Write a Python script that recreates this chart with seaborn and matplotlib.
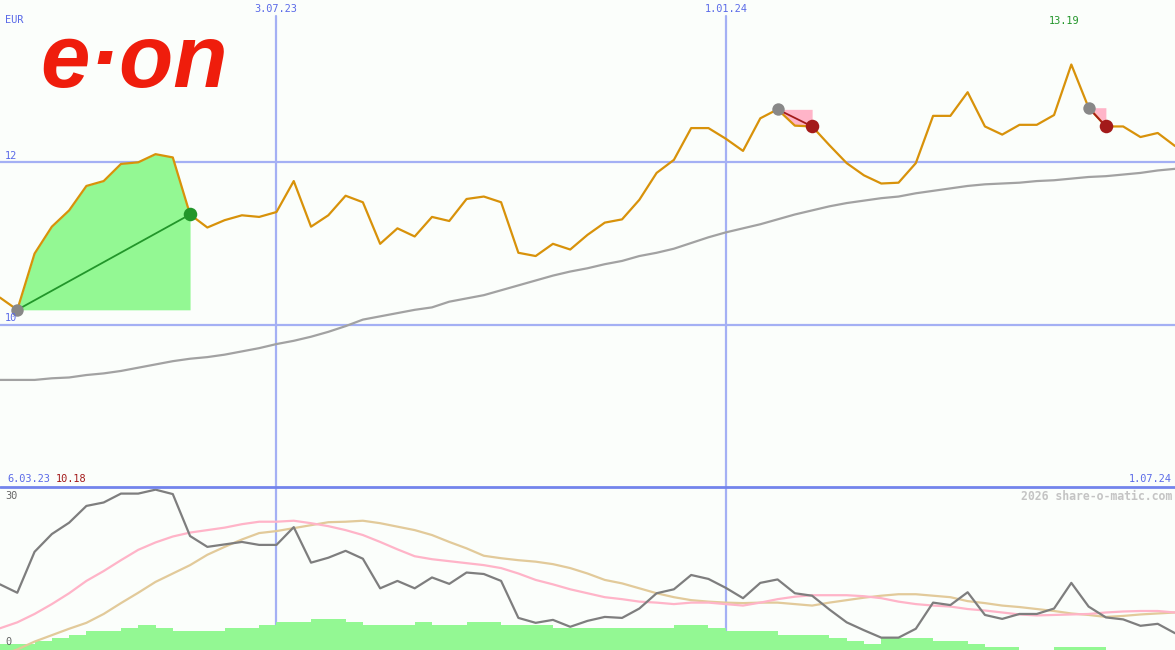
import matplotlib
matplotlib.use("Agg")
import matplotlib.pyplot as plt
from matplotlib.lines import Line2D
import numpy as np
import pandas as pd
import seaborn as sns

# ---------------- data (weekly points, index 0 .. 68) ----------------
weeks = list(range(69))

price = [10.33, 10.18, 10.87, 11.20, 11.40, 11.70, 11.76, 11.97, 11.99, 12.09,
         12.05, 11.35, 11.19, 11.28, 11.34, 11.32, 11.38, 11.76, 11.20, 11.34,
         11.58, 11.50, 10.99, 11.18, 11.08, 11.32, 11.27, 11.54, 11.57, 11.50,
         10.88, 10.84, 10.99, 10.92, 11.10, 11.25, 11.29, 11.53, 11.86, 12.02,
         12.41, 12.41, 12.28, 12.13, 12.53, 12.64, 12.44, 12.43, 12.20, 11.98,
         11.83, 11.73, 11.74, 11.98, 12.56, 12.56, 12.85, 12.43, 12.33, 12.45,
         12.45, 12.57, 13.19, 12.66, 12.43, 12.43, 12.30, 12.35, 12.19]

ma_long = [9.32, 9.32, 9.32, 9.34, 9.35, 9.38, 9.40, 9.43, 9.47, 9.51,
           9.55, 9.58, 9.60, 9.63, 9.67, 9.71, 9.76, 9.80, 9.85, 9.91,
           9.98, 10.06, 10.10, 10.14, 10.18, 10.21, 10.28, 10.32, 10.36, 10.42,
           10.48, 10.54, 10.60, 10.65, 10.69, 10.74, 10.78, 10.84, 10.88, 10.93,
           11.00, 11.07, 11.13, 11.18, 11.23, 11.29, 11.35, 11.40, 11.45, 11.49,
           11.52, 11.55, 11.57, 11.61, 11.64, 11.67, 11.70, 11.72, 11.73, 11.74,
           11.76, 11.77, 11.79, 11.81, 11.82, 11.84, 11.86, 11.89, 11.91]

osc = [12.9, 11.2, 19.5, 23.1, 25.4, 28.8, 29.5, 31.3, 31.3, 32.1,
       31.2, 22.7, 20.5, 21.0, 21.5, 20.9, 20.9, 24.5, 17.3, 18.3,
       19.7, 18.1, 12.1, 13.6, 12.1, 14.3, 13.0, 15.3, 15.0, 13.6,
       6.1, 5.1, 5.7, 4.3, 5.5, 6.3, 6.1, 8.0, 11.1, 11.9,
       14.8, 14.0, 12.2, 10.1, 13.2, 13.9, 11.1, 10.6, 7.8, 5.2,
       3.6, 2.1, 2.1, 3.9, 9.2, 8.7, 11.3, 6.7, 5.9, 6.9,
       6.9, 8.0, 13.2, 8.4, 6.2, 5.8, 4.5, 4.9, 3.0]

osc_fast = [4.0, 5.2, 6.9, 8.9, 11.1, 13.6, 15.6, 17.8, 19.9, 21.4,
            22.6, 23.4, 23.9, 24.4, 25.1, 25.6, 25.6, 25.8, 25.3, 24.7,
            23.9, 22.9, 21.5, 20.0, 18.6, 18.0, 17.6, 17.2, 16.8, 16.2,
            15.1, 13.8, 12.9, 11.9, 11.1, 10.3, 9.9, 9.4, 9.2, 8.9,
            9.2, 9.2, 8.9, 8.6, 9.2, 9.9, 10.4, 10.7, 10.7, 10.7,
            10.5, 10.1, 9.4, 8.9, 8.6, 8.4, 7.9, 7.6, 7.2, 6.8,
            6.6, 6.7, 6.8, 6.9, 7.2, 7.4, 7.5, 7.5, 7.2]

osc_slow = [-1.5, -0.3, 1.3, 2.6, 3.9, 5.1, 6.9, 9.1, 11.2, 13.4,
            15.1, 16.8, 18.9, 20.5, 22.0, 23.3, 23.7, 24.3, 24.9, 25.5,
            25.6, 25.8, 25.3, 24.6, 23.9, 22.9, 21.5, 20.2, 18.7, 18.2,
            17.8, 17.5, 17.0, 16.2, 15.1, 13.8, 13.1, 12.1, 11.1, 10.3,
            9.7, 9.4, 9.2, 9.1, 9.2, 9.2, 8.9, 8.6, 9.2, 9.7,
            10.2, 10.6, 10.9, 10.9, 10.6, 10.3, 9.5, 9.1, 8.6, 8.3,
            7.9, 7.5, 7.0, 6.7, 6.3, 6.5, 6.8, 7.0, 7.2]

volume = [6, 6, 9, 11.7, 15, 19, 19, 22.3, 25, 22.3,
          19, 19, 19, 22.3, 22.3, 25, 27.7, 27.7, 30.7, 30.7,
          27.7, 25, 25, 25, 27.7, 25, 25, 27.7, 27.7, 25,
          25, 25, 22.3, 22.3, 22.3, 22.3, 22.3, 22.3, 22.3, 25,
          25, 22.3, 19, 19, 19, 15, 15, 15, 11.7, 9,
          6, 11.7, 11.7, 11.7, 9, 9, 6, 2.7, 2.7, 0,
          0, 2.7, 2.7, 2.7, 0, 0, 0, 0]

date_labels = ["6.03.23", "3.07.23", "1.01.24", "1.07.24"]
vline_weeks = [16, 42]
price_levels = [12, 10]
osc_levels = [30, 0]
buy_signal = (1, 11)
sell_signals = [(45, 47), (63, 64)]

# ---------------- style ----------------
sns.set_style("white")
plt.rcParams["font.family"] = ["DejaVu Sans Mono", "DejaVu Sans"]

W, H = 1175, 650
BG = "#fbfefb"
GRID = "#a4b0f4"
SEP = "#7384ec"
LBL = "#5a6ae8"
ORANGE = "#d8920a"
MAGRAY = "#a2a2a2"
OSCGRAY = "#7e7e7e"
PINK = "#ffb4c8"
TAN = "#e2ca9a"
GREEN = "#93f893"
DKGREEN = "#22962a"
DKRED = "#a31a1a"

fig = plt.figure(figsize=(W / 100, H / 100), dpi=100, facecolor=BG)

main_h = 487 / H
low_h = 163 / H
ax = fig.add_axes([0, low_h, 1, main_h])
axv = fig.add_axes([0, 0, 1, low_h])
axo = fig.add_axes([0, 0, 1, low_h], facecolor="none")

px_per_eur = 81.5
ax.set_xlim(0, 68)
ax.set_ylim(10 - (487 - 324.5) / px_per_eur, 12 + 161.5 / px_per_eur)
axv.set_xlim(0, 68)
axv.set_ylim(0, 163)
px_per_unit = 4.933
axo.set_xlim(0, 68)
axo.set_ylim(-(650 - 648) / px_per_unit, (648 - 487) / px_per_unit)

for a in (ax, axv, axo):
    a.set_xticks([])
    a.set_yticks([])
    for s in a.spines.values():
        s.set_visible(False)
ax.set_facecolor(BG)
axv.set_facecolor(BG)

# ---------------- main panel ----------------
for lv in price_levels:
    ax.axhline(lv, color=GRID, lw=1.6, zorder=1)
for vx in vline_weeks:
    ax.axvline(vx, ymin=0, ymax=1 - 16 / 487, color=GRID, lw=1.6, zorder=1)
    axv.axvline(vx, color=GRID, lw=1.6, zorder=1)

df = pd.DataFrame({"week": weeks, "price": price, "ma": ma_long,
                   "osc": osc, "fast": osc_fast, "slow": osc_slow})

# buy signal area
b0, b1 = buy_signal
xs = np.array(weeks[b0:b1 + 1])
ax.fill_between(xs, np.array(price[b0:b1 + 1]), price[b0], color=GREEN, lw=0, zorder=2)
# sell signal areas
for s0, s1 in sell_signals:
    xs = np.array(weeks[s0:s1 + 1])
    ax.fill_between(xs, np.array(price[s0:s1 + 1]), price[s0], color=PINK, lw=0, zorder=2)

sns.lineplot(data=df, x="week", y="ma", ax=ax, color=MAGRAY, lw=1.6,
             estimator=None, zorder=3)
sns.lineplot(data=df, x="week", y="price", ax=ax, color=ORANGE, lw=1.6,
             estimator=None, zorder=4)

ax.plot([b0, b1], [price[b0], price[b1]], color=DKGREEN, lw=1.3, zorder=5)
ax.scatter([b0], [price[b0]], s=80, color="#888888", zorder=6, lw=0)
ax.scatter([b1], [price[b1]], s=95, color=DKGREEN, zorder=6, lw=0)
for s0, s1 in sell_signals:
    ax.plot([s0, s1], [price[s0], price[s1]], color=DKRED, lw=1.3, zorder=5)
    ax.scatter([s0], [price[s0]], s=80, color="#888888", zorder=6, lw=0)
    ax.scatter([s1], [price[s1]], s=95, color=DKRED, zorder=6, lw=0)

# ---------------- lower panel ----------------
axv.bar(weeks[:-1], volume, width=1.0, align="edge", color=GREEN, lw=0, zorder=2)
sns.lineplot(data=df, x="week", y="slow", ax=axo, color=TAN, lw=1.6, estimator=None)
sns.lineplot(data=df, x="week", y="fast", ax=axo, color=PINK, lw=1.6, estimator=None)
sns.lineplot(data=df, x="week", y="osc", ax=axo, color=OSCGRAY, lw=1.6, estimator=None)
for a in (ax, axv, axo):
    a.set_xlabel("")
    a.set_ylabel("")
    a.set_xlim(0, 68)

fig.add_artist(Line2D([0, 1], [low_h, low_h], transform=fig.transFigure,
                      color=SEP, lw=2.0))

# ---------------- texts ----------------
def ftext(x, y, s, **kw):
    fig.text(x / W, 1 - y / H, s, va="center", **kw)

FS = 7.4
ftext(5, 20, "EUR", color=LBL, fontsize=FS)
ftext(276, 9, date_labels[1], color=LBL, fontsize=FS, ha="center")
ftext(726, 9, date_labels[2], color=LBL, fontsize=FS, ha="center")
imax = int(np.argmax(price))
ftext(1064, 21, f"{price[imax]:.2f}", color="#22962a", fontsize=FS, ha="center")
ftext(5, 156, str(price_levels[0]), color=LBL, fontsize=FS)
ftext(5, 318, str(price_levels[1]), color=LBL, fontsize=FS)
ftext(7, 479, date_labels[0], color=LBL, fontsize=FS)
ftext(56, 479, f"{price[b0]:.2f}", color=DKRED, fontsize=FS)
ftext(1172, 479, date_labels[3], color=LBL, fontsize=FS, ha="right")
ftext(5, 496, str(osc_levels[0]), color="#666666", fontsize=FS)
ftext(5, 642, str(osc_levels[1]), color="#666666", fontsize=FS)
ftext(1172, 496, "2026 share-o-matic.com", color="#c4c4c4", fontsize=8.3,
      fontweight="bold", ha="right")

# logo
fig.text(40 / W, 1 - 64 / H, "e\u00b7on", fontsize=64, fontweight="bold",
         fontstyle="italic", family="Liberation Sans", color="#ef1d0c",
         ha="left", va="center")

fig.savefig("out.png", dpi=100, facecolor=BG)
